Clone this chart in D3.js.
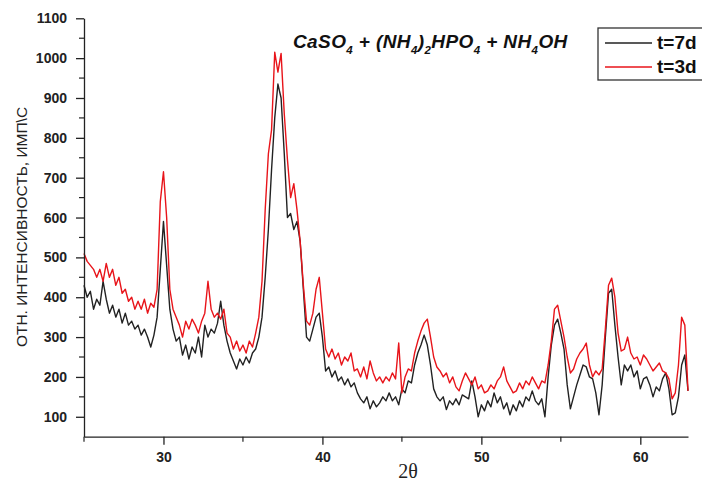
<!DOCTYPE html>
<html>
<head>
<meta charset="utf-8">
<script src="https://cdn.jsdelivr.net/npm/d3@7"></script>
<style>
  html, body { margin: 0; padding: 0; background: #fff; }
  svg { display: block; }
  .tick text { font-family: Arial, "Liberation Sans", sans-serif; font-weight: bold; font-size: 14px; fill: #222; }
</style>
</head>
<body>
<svg id="chart" width="702" height="484"></svg>
<script>
// XRD scans: relative intensity (counts/s) vs 2θ, sampled every 0.2° from 25° to 63°
const angleStart = 25;
const angleStep = 0.2;

// t = 7 days
const series7d = [
  430, 400, 415, 370, 395,  380, 440, 395, 360, 380,   // 25–26.8
  350, 370, 335, 360, 330,  340, 320, 330, 305, 320,   // 27–28.8
  300, 275, 305, 350, 470,  590, 480, 370, 320, 290,   // 29–30.8
  300, 255, 280, 245, 275,  260, 300, 250, 330, 300,   // 31–32.8
  320, 310, 335, 390, 330,  290, 260, 240, 220, 245,   // 33–34.8
  230, 250, 235, 260, 270,  300, 350, 450, 570, 720,   // 35–36.8
  850, 935, 900, 760, 600,  610, 570, 590, 540, 420,   // 37–38.8
  300, 290, 320, 350, 360,  300, 215, 225, 200, 215,   // 39–40.8
  190, 200, 180, 195, 175,  185, 160, 145, 135, 150,   // 41–42.8
  120, 140, 125, 135, 150,  140, 160, 140, 150, 130,   // 43–44.8
  170, 160, 190, 185, 230,  260, 280, 305, 280, 230,   // 45–46.8
  170, 150, 140, 150, 118,  140, 130, 145, 130, 155,   // 47–48.8
  150, 145, 190, 150, 100,  130, 115, 140, 125, 160,   // 49–50.8
  135, 150, 120, 135, 105,  130, 115, 140, 125, 150,   // 51–52.8
  140, 165, 140, 130, 145,  100, 200, 280, 330, 345,   // 53–54.8
  310, 270, 180, 120, 150,  180, 205, 230, 225, 200,   // 55–56.8
  195, 160, 105, 180, 300,  410, 420, 330, 250, 180,   // 57–58.8
  230, 215, 230, 200, 215,  170, 195, 200, 180, 150,   // 59–60.8
  175, 165, 195, 210, 170,  105, 110, 150, 230, 255,   // 61–62.8
  165                                                  // 63
];

// t = 3 days
const series3d = [
  510, 490, 480, 470, 450,  470, 440, 485, 450, 470,   // 25–26.8
  430, 450, 410, 420, 390,  400, 370, 390, 370, 395,   // 27–28.8
  360, 385, 375, 420, 640,  715, 600, 420, 370, 350,   // 29–30.8
  330, 300, 340, 320, 345,  330, 310, 340, 360, 440,   // 31–32.8
  370, 350, 360, 345, 370,  310, 300, 270, 290, 265,   // 33–34.8
  280, 260, 290, 275, 310,  350, 440, 620, 760, 820,   // 35–36.8
  1015, 965, 1012, 860, 745, 650, 685, 620, 540, 430,  // 37–38.8
  340, 330, 360, 420, 450,  360, 270, 250, 270, 245,   // 39–40.8
  260, 230, 250, 240, 260,  215, 220, 200, 225, 195,   // 41–42.8
  240, 210, 190, 200, 185,  200, 190, 210, 195, 285,   // 43–44.8
  160, 200, 220, 215, 260,  290, 315, 335, 345, 300,   // 45–46.8
  250, 225, 215, 200, 210,  185, 200, 175, 165, 190,   // 47–48.8
  210, 195, 180, 200, 170,  180, 160, 165, 180, 170,   // 49–50.8
  190, 200, 225, 190, 175,  160, 165, 185, 170, 190,   // 51–52.8
  180, 200, 185, 170, 190,  185, 230, 290, 370, 380,   // 53–54.8
  340, 300, 250, 210, 220,  245, 260, 270, 285, 230,   // 55–56.8
  200, 215, 205, 220, 320,  430, 448, 400, 310, 265,   // 57–58.8
  270, 300, 260, 245, 250,  230, 255, 245, 230, 215,   // 59–60.8
  225, 235, 215, 210, 195,  145, 160, 230, 350, 330,   // 61–62.8
  165                                                  // 63
];

const xTickValues = [30, 40, 50, 60];
const xMinorTicks = [25, 35, 45, 55];
const yTickValues = [100, 200, 300, 400, 500, 600, 700, 800, 900, 1000, 1100];
const yMinorTicks = [150, 250, 350, 450, 550, 650, 750, 850, 950, 1050];

const seriesNames = ["t=7d", "t=3d"];
const seriesColors = ["#222222", "#e8141a"];

const svg = d3.select("#chart");

const x = d3.scaleLinear().domain([25, 63]).range([84, 688]);
const y = d3.scaleLinear().domain([50, 1100]).range([436.7, 18.3]);

const toPoints = vals => vals.map((v, i) => [angleStart + i * angleStep, v]);

const line = d3.line().x(d => x(d[0])).y(d => y(d[1]));

// curves: 7d drawn first, 3d on top
[series7d, series3d].forEach((vals, k) => {
  svg.append("path")
    .datum(toPoints(vals))
    .attr("fill", "none")
    .attr("stroke", seriesColors[k])
    .attr("stroke-width", 1.4)
    .attr("stroke-linejoin", "round")
    .attr("d", line);
});

// x axis
const xAxis = svg.append("g")
  .attr("transform", `translate(0,${y(50)})`)
  .call(d3.axisBottom(x).tickValues(xTickValues).tickFormat(d3.format("d"))
    .tickSize(8).tickPadding(7).tickSizeOuter(0));
xAxis.select(".domain").attr("stroke", "#222").attr("stroke-width", 1.3);
xAxis.selectAll(".tick line").attr("stroke", "#222").attr("stroke-width", 1.3);

svg.append("g")
  .attr("transform", `translate(0,${y(50)})`)
  .selectAll("line")
  .data(xMinorTicks)
  .join("line")
  .attr("x1", d => x(d)).attr("x2", d => x(d))
  .attr("y1", 0).attr("y2", 5)
  .attr("stroke", "#222").attr("stroke-width", 1.2);

// y axis
const yAxis = svg.append("g")
  .attr("transform", `translate(${x(25)},0)`)
  .call(d3.axisLeft(y).tickValues(yTickValues).tickFormat(d3.format("d"))
    .tickSize(8).tickPadding(9).tickSizeOuter(0));
yAxis.select(".domain").attr("stroke", "#222").attr("stroke-width", 1.3);
yAxis.selectAll(".tick line").attr("stroke", "#222").attr("stroke-width", 1.3);

svg.append("g")
  .attr("transform", `translate(${x(25)},0)`)
  .selectAll("line")
  .data(yMinorTicks)
  .join("line")
  .attr("x1", -5).attr("x2", 0)
  .attr("y1", d => y(d)).attr("y2", d => y(d))
  .attr("stroke", "#222").attr("stroke-width", 1.2);

// axis titles
svg.append("text")
  .attr("x", 408).attr("y", 478)
  .attr("text-anchor", "middle")
  .attr("font-family", "'Liberation Serif', 'Times New Roman', serif")
  .attr("font-size", 20)
  .attr("fill", "#222")
  .text("2θ");

svg.append("text")
  .attr("transform", "translate(27,227) rotate(-90)")
  .attr("text-anchor", "middle")
  .attr("font-family", "Arial, 'Liberation Sans', sans-serif")
  .attr("font-size", 15.5)
  .attr("fill", "#222")
  .text("ОТН. ИНТЕНСИВНОСТЬ, ИМП\\С");

// reaction formula
const formula = svg.append("text")
  .attr("x", 293).attr("y", 48)
  .attr("font-family", "Arial, 'Liberation Sans', sans-serif")
  .attr("font-size", 19)
  .attr("font-weight", "bold")
  .attr("font-style", "italic")
  .attr("letter-spacing", 0.4)
  .attr("fill", "#111");
const parts = [
  ["CaSO", 0], ["4", 1], [" + (NH", 0], ["4", 1], [")", 0], ["2", 1],
  ["HPO", 0], ["4", 1], [" + NH", 0], ["4", 1], ["OH", 0]
];
let shifted = false;
parts.forEach(([t, sub]) => {
  const ts = formula.append("tspan").text(t);
  if (sub && !shifted) { ts.attr("dy", 6).attr("font-size", 11.5); shifted = true; }
  else if (sub) { ts.attr("font-size", 11.5); }
  else if (shifted) { ts.attr("dy", -6); shifted = false; }
});

// legend
const legend = svg.append("g");
legend.append("rect")
  .attr("x", 598).attr("y", 28).attr("width", 110).attr("height", 52)
  .attr("fill", "#fff").attr("stroke", "#333").attr("stroke-width", 1.3);
seriesNames.forEach((name, i) => {
  const yy = 43 + i * 24;
  legend.append("line")
    .attr("x1", 605).attr("x2", 652).attr("y1", yy).attr("y2", yy)
    .attr("stroke", seriesColors[i]).attr("stroke-width", 1.3);
  legend.append("text")
    .attr("x", 657).attr("y", yy + 6)
    .attr("font-family", "Arial, 'Liberation Sans', sans-serif")
    .attr("font-size", 19)
    .attr("font-weight", "bold")
    .attr("fill", "#111")
    .text(name);
});
</script>
</body>
</html>
